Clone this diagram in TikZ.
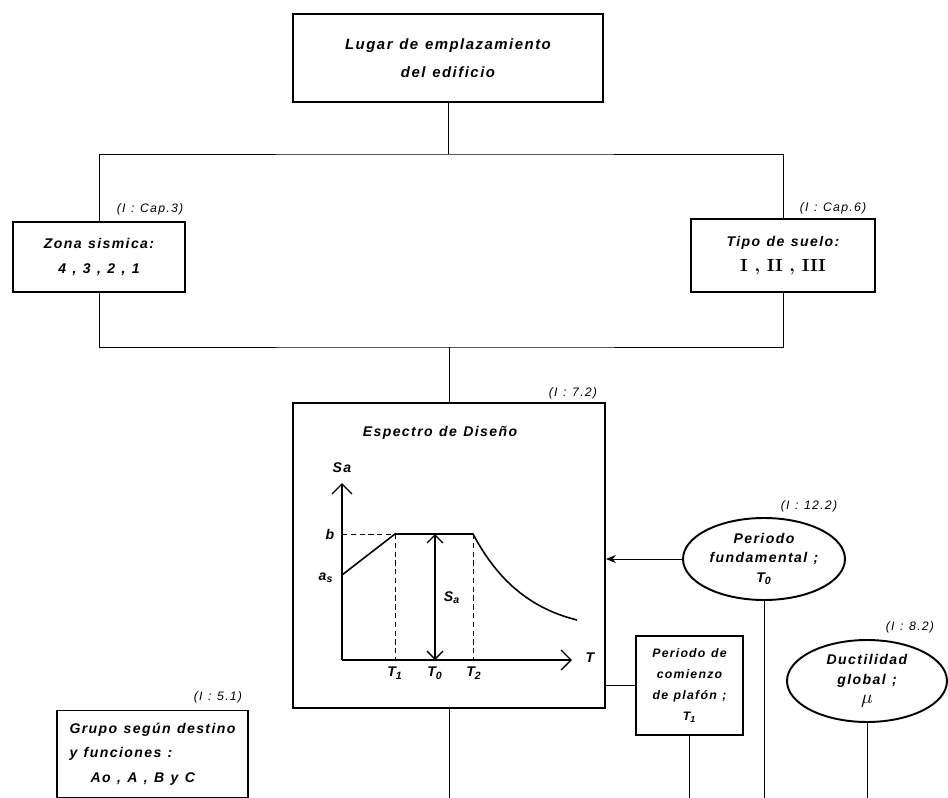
\documentclass[tikz,border=0pt]{standalone}
\usepackage{fontspec}
\usepackage{tikz}
\usetikzlibrary{shapes.geometric, arrows.meta, positioning}

\newfontfamily\handfont[LetterSpace=10, WordSpace=1.2]{Liberation Sans}
\newcommand{\hand}{\handfont\bfseries\itshape}

\begin{document}
\begin{tikzpicture}[
    x=0.02cm, y=-0.02cm,
    every node/.style={font=\hand\fontsize{8}{14}\selectfont},
    box/.style={rectangle, draw, line width=1.1pt, align=center, inner sep=0pt},
    oval/.style={ellipse, draw, line width=1.1pt, align=center, inner sep=0pt},
    ref/.style={font=\handfont\itshape\fontsize{7}{8}\selectfont},
    link/.style={line width=0.5pt},
    arrow/.style={-{Stealth[length=2mm, width=1.6mm]}, line width=0.5pt},
    axis/.style={-{Straight Barb[length=2mm]}, line width=0.8pt},
    guide/.style={dash pattern=on 3pt off 2pt, line width=0.4pt},
]
\useasboundingbox (0,0) rectangle (948,798);

% lugar y datos del terreno
\node[box, minimum width=6.2cm, minimum height=1.76cm, font=\hand\fontsize{8.5}{16}\selectfont] (lugar) at (448,58) {Lugar de emplazamiento\\del edificio};
\node[box, minimum width=3.44cm, minimum height=1.4cm] (zona) at (99,257) {Zona sismica:\\4 , 3 , 2 , 1};
\node[ref] (refzona) at (150,209) {(I : Cap.3)};
\node[box, minimum width=3.68cm, minimum height=1.46cm] (tipo) at (783,255.5) {Tipo de suelo:\\{\rmfamily\upshape\fontsize{10}{14}\selectfont I , II , III}};
\node[ref] (reftipo) at (833,208) {(I : Cap.6)};

% espectro
\node[box, minimum width=6.24cm, minimum height=6.1cm] (espectro) at (449,555.5) {};
\node[ref] (refesp) at (573,393) {(I : 7.2)};
\node (titulo) at (440,433) {Espectro de Diseño};

\coordinate (O) at (342,660);
\draw[axis] (O) -- (342,483);
\draw[axis] (O) -- (572,660);
\node (sa) at (342,468) {Sa};
\node (tlab) at (590,658) {T};
\node (blab) at (330,534) {b};
\node (aslab) at (326,578) {a\textsubscript{s}};
\draw[guide] (342,534) -- (395,534);
\draw[guide] (395,534) -- (395,660);
\draw[guide] (473,534) -- (473,660);
\draw[line width=0.9pt] (342,575) -- (395,534) -- (473,534) .. controls (495,575) and (525,607) .. (577,620);
\draw[{Straight Barb[length=1.6mm]}-{Straight Barb[length=1.6mm]}, line width=0.8pt] (435,534) -- (435,660);
\node (salab) at (452,598) {S\textsubscript{a}};
\node (t1lab) at (395,673) {T\textsubscript{1}};
\node (t0lab) at (435,673) {T\textsubscript{0}};
\node (t2lab) at (474,673) {T\textsubscript{2}};

% datos de la estructura
\node[oval, minimum width=3.24cm, minimum height=1.64cm, font=\hand\fontsize{8}{11}\selectfont] (fund) at (764,559) {Periodo\\fundamental ;\\T\textsubscript{0}};
\node[ref] (reffund) at (809,506) {(I : 12.2)};
\node[box, minimum width=2.14cm, minimum height=1.98cm, font=\hand\fontsize{7}{12}\selectfont] (comienzo) at (689.5,685.5) {Periodo de\\comienzo\\de plafón ;\\T\textsubscript{1}};
\node[oval, minimum width=3.2cm, minimum height=1.64cm, font=\hand\fontsize{8}{11}\selectfont] (duct) at (867,681) {Ductilidad\\global ;\\{\fontsize{11}{11}\selectfont$\mu$}};
\node[ref] (refduct) at (910,627) {(I : 8.2)};
\node[box, minimum width=3.82cm, minimum height=1.74cm, align=left] (grupo) at (152.5,754) {Grupo según destino\\y funciones :\\\hspace{1.5em}Ao , A , B y C};
\node[ref] (refgrupo) at (218,697) {(I : 5.1)};

% conexiones
\coordinate (bus1) at (448,154);
\coordinate (bus2) at (449,347);
\coordinate (fondo) at (0,798);
\draw[link] (lugar.south) -- (bus1);
\draw[link] (zona.north) |- (bus1) -| (tipo.north);
\draw[link] (zona.south) |- (bus2) -| (tipo.south);
\draw[link] (bus2) -- (espectro.north);
\draw[arrow] (fund.west) -- (fund.west -| espectro.east);
\draw[link] (comienzo.west) -- (comienzo.west -| espectro.east);
\draw[link] (espectro.south) -- (espectro.south |- fondo);
\draw[link] (comienzo.south) -- (comienzo.south |- fondo);
\draw[link] (fund.south) -- (fund.south |- fondo);
\draw[link] (duct.south) -- (duct.south |- fondo);
\end{tikzpicture}
\end{document}
